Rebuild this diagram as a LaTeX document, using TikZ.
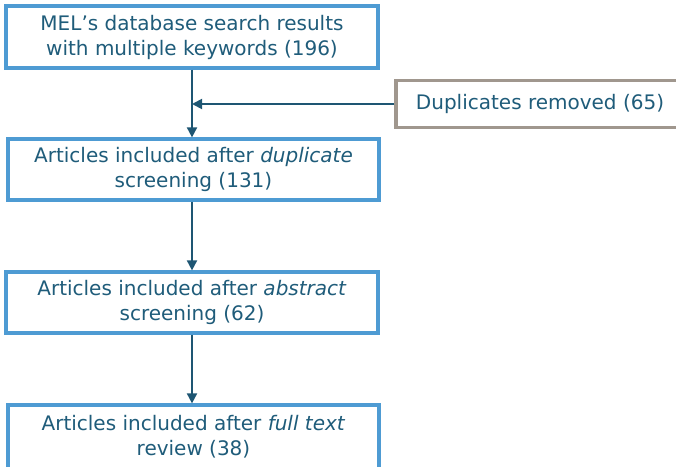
\documentclass[tikz,border=0pt]{standalone}
\usepackage{fontspec}
\setmainfont{DejaVu Sans}
\usetikzlibrary{arrows.meta}
\definecolor{txt}{HTML}{1F5C7A}
\definecolor{blueb}{HTML}{4E9BD3}
\definecolor{grayb}{HTML}{A0978E}
\definecolor{arr}{HTML}{1E5673}
\tikzset{
  stagebox/.style={draw=blueb, line width=3.2pt, fill=white, text=txt, align=center,
    inner sep=0pt, font=\fontsize{20}{25}\selectfont},
  sidebox/.style={draw=grayb, line width=3.2pt, fill=white, text=txt, align=center,
    inner sep=0pt, font=\fontsize{20}{25}\selectfont},
  flow/.style={draw=arr, line width=1.8pt, -{Triangle[width=10pt,length=10pt]}}
}
\begin{document}
\begin{tikzpicture}[x=1pt,y=-1pt]
\useasboundingbox (0,0) rectangle (676,466);
\node[stagebox, minimum width=372pt, minimum height=62pt] (b1) at (192,37)
  {MEL’s database search results\\with multiple keywords (196)};
\node[sidebox, minimum width=288pt, minimum height=47pt] (b2) at (540,104)
  {Duplicates removed (65)};
\node[stagebox, minimum width=371pt, minimum height=61pt] (b3) at (193.5,169.5)
  {Articles included after \textit{duplicate}\\screening (131)};
\node[stagebox, minimum width=372pt, minimum height=61pt] (b4) at (192,302.5)
  {Articles included after \textit{abstract}\\screening (62)};
\node[stagebox, minimum width=371pt, minimum height=64pt] (b5) at (193.5,437)
  {Articles included after \textit{full text}\\review (38)};
\coordinate (j) at (192,104);
\draw[flow] (b1.south -| j) -- (b3.north -| j);
\draw[flow] (b2.west) -- (j);
\draw[flow] (b3.south -| j) -- (b4.north -| j);
\draw[flow] (b4.south -| j) -- (b5.north -| j);
\end{tikzpicture}
\end{document}
